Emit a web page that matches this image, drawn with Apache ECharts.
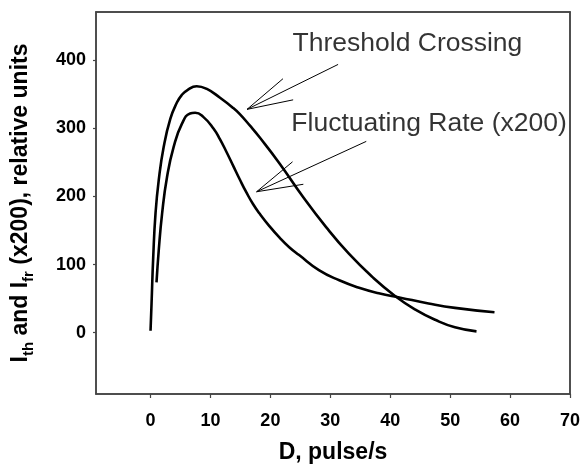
<!DOCTYPE html>
<html>
<head>
<meta charset="utf-8">
<script src="https://cdn.jsdelivr.net/npm/echarts@6/dist/echarts.min.js"></script>
<style>
html, body { margin: 0; padding: 0; background: #fff; }
#cn { width: 583px; height: 469px; }
</style>
</head>
<body>
<div id="cn"></div>
<script>
'use strict';

// threshold crossing curve (D, I_th)
const thX = [0, 0.17, 0.45, 0.83, 1.37, 2.2, 3.3, 4.4, 5.2, 6.1, 7.7, 9.4, 11.6, 13.8, 14.9, 16.6, 18.2, 21.5, 25.4, 29.3, 33.1, 37, 40.8, 44.2, 47.5, 50.8, 54.4];
const thY = [3, 43, 111, 175, 224, 273, 314, 338, 349, 356, 362, 358, 345, 330, 321, 304, 287, 249, 200, 155, 116, 82, 54, 34, 19, 8, 2];

// fluctuating rate curve (D, I_fr x200)
const frX = [1.0, 1.37, 1.93, 2.76, 3.86, 5.25, 6.6, 7.45, 8.8, 10.5, 11.6, 12.7, 13.8, 14.9, 16.0, 17.1, 18.2, 19.8, 21.5, 23.1, 24.8, 28.1, 31.5, 34.8, 38.1, 41.7, 46.4, 50.8, 57.4];
const frY = [74, 121, 175, 229, 273, 307, 322, 323, 317, 300, 284, 265, 245, 225, 206, 189, 175, 157, 140, 126, 114, 92, 77, 66, 58, 51.5, 43, 36.5, 30];

const xTicks = [0, 10, 20, 30, 40, 50, 60, 70];
const yTicks = [0, 100, 200, 300, 400];

// annotation labels and arrows (data coords)
const noteText = ['Threshold Crossing', 'Fluctuating Rate (x200)'];
const notePos = [[23.7, 425], [23.5, 307]];
const arrowTip = [[16.1, 328], [17.7, 207]];
const arrowTail = [[31.3, 394], [36.0, 281]];
const barbA = [[22.1, 373], [23.7, 251]];
const barbB = [[23.8, 342], [25.5, 218]];

const FONT = '"Liberation Sans", Arial, sans-serif';
const X_MIN = -9.1, X_MAX = 70, Y_MIN = -90, Y_MAX = 471;

function _zip(a, b) {
    return a.map((v, i) => [v, b[i]]);
}

const thData = _zip(thX, thY);
const frData = _zip(frX, frY);

let arrowSegs = [];
arrowTip.forEach((tip, i) => {
    arrowSegs.push({ coords: [arrowTail[i], tip] });
    arrowSegs.push({ coords: [barbA[i], tip] });
    arrowSegs.push({ coords: [barbB[i], tip] });
});

// top / right edges of the box
const frameAxis = {
    type: 'value',
    axisLine: { show: true, onZero: false, lineStyle: { color: '#444', width: 1.5 } },
    axisTick: { show: false },
    axisLabel: { show: false },
    splitLine: { show: false }
};

const chart = echarts.init(document.getElementById('cn'));

const option = {
    animation: false,
    textStyle: { fontFamily: FONT },
    grid: {
        left: 96,
        right: 10,
        top: 12,
        bottom: 75,
        show: true,
        borderColor: '#444',
        borderWidth: 1.5
    },
    xAxis: [{
        type: 'value',
        min: X_MIN,
        max: X_MAX,
        name: 'D, pulse/s',
        nameLocation: 'middle',
        nameGap: 47,
        nameTextStyle: { fontSize: 23, fontWeight: 'bold', color: '#000', fontFamily: FONT },
        splitLine: { show: false },
        axisLine: { show: true, onZero: false, lineStyle: { color: '#444', width: 1.5 } },
        axisTick: { show: true, customValues: xTicks, length: 4, lineStyle: { color: '#444', width: 1.2 } },
        axisLabel: {
            customValues: xTicks,
            margin: 18.5,
            fontSize: 18,
            fontWeight: 'bold',
            color: '#000',
            fontFamily: FONT
        }
    }, Object.assign({ position: 'top', min: X_MIN, max: X_MAX }, frameAxis)],
    yAxis: [{
        type: 'value',
        min: Y_MIN,
        max: Y_MAX,
        name: '{m|I}{s|th}{m| and I}{s|fr}{m| (x200), relative units}',
        nameLocation: 'middle',
        nameRotate: 90,
        nameGap: 60,
        nameTextStyle: {
            color: '#000',
            rich: {
                m: { fontSize: 23, fontWeight: 'bold', fontFamily: FONT, lineHeight: 30, color: '#000' },
                s: { fontSize: 15, fontWeight: 'bold', fontFamily: FONT, verticalAlign: 'bottom', lineHeight: 30, padding: [9, 0, 0, 0], color: '#000' }
            }
        },
        splitLine: { show: false },
        axisLine: { show: true, onZero: false, lineStyle: { color: '#444', width: 1.5 } },
        axisTick: { show: true, customValues: yTicks, length: 3, lineStyle: { color: '#444', width: 1.2 } },
        axisLabel: {
            customValues: yTicks,
            margin: 10,
            fontSize: 18,
            fontWeight: 'bold',
            color: '#000',
            fontFamily: FONT
        }
    }, Object.assign({ position: 'right', min: Y_MIN, max: Y_MAX }, frameAxis)],
    series: [
        {
            type: 'line',
            data: thData,
            smooth: 0.5,
            showSymbol: false,
            lineStyle: { color: '#000', width: 2.6 }
        },
        {
            type: 'line',
            data: frData,
            smooth: 0.5,
            showSymbol: false,
            lineStyle: { color: '#000', width: 2.6 }
        },
        {
            type: 'lines',
            coordinateSystem: 'cartesian2d',
            data: arrowSegs,
            silent: true,
            lineStyle: { color: '#000', width: 1, opacity: 1 }
        },
        {
            type: 'scatter',
            data: notePos.map((p, i) => ({ value: p, name: noteText[i] })),
            symbolSize: 0,
            silent: true,
            label: {
                show: true,
                position: 'right',
                distance: 0,
                formatter: p => p.name,
                fontSize: 26.5,
                color: '#000',
                fontFamily: FONT
            }
        }
    ]
};

chart.setOption(option);
</script>
</body>
</html>
